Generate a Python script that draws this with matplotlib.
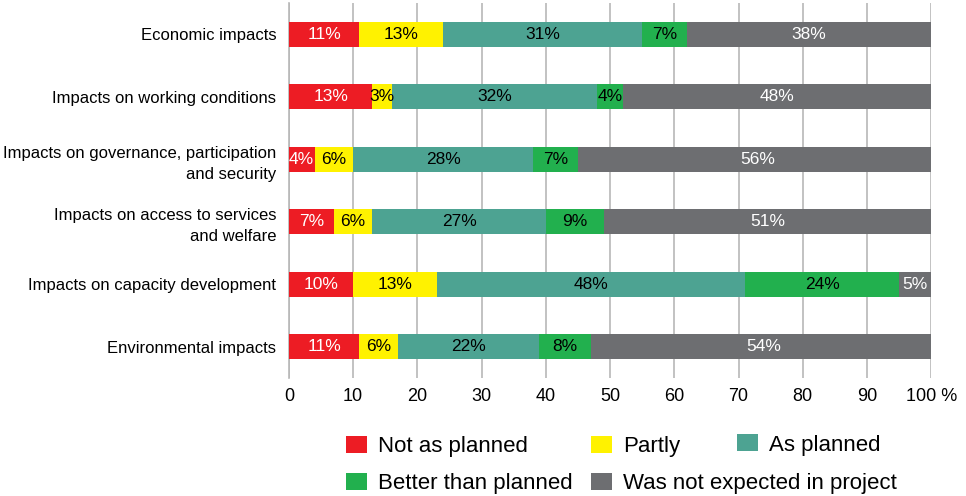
import matplotlib.pyplot as plt
import numpy as np
from matplotlib.patches import Patch

plt.rcParams['font.family'] = ['Liberation Sans', 'DejaVu Sans']

# Categories (top to bottom)
categories = ['Economic impacts',
              'Impacts on working conditions',
              'Impacts on governance, participation\nand security',
              'Impacts on access to services\nand welfare',
              'Impacts on capacity development',
              'Environmental impacts']

series = ['Not as planned', 'Partly', 'As planned',
          'Better than planned', 'Was not expected in project']

not_planned = [11, 13, 4, 7, 10, 11]
partly = [13, 3, 6, 6, 13, 6]
as_planned = [31, 32, 28, 27, 48, 22]
better = [7, 4, 7, 9, 24, 8]
not_expected = [38, 48, 56, 51, 5, 54]

colors = ['#ED1C24', '#FFF200', '#4DA392', '#22B04E', '#6D6E71']
text_colors = ['white', 'black', 'black', 'black', 'white']

values = [not_planned, partly, as_planned, better, not_expected]

fig = plt.figure(figsize=(9.66, 4.96), dpi=100)
ax = fig.add_axes([0.299, 0.238, 0.665, 0.756])

y = np.arange(len(categories))
left = np.zeros(len(categories))
for vals, col, tcol in zip(values, colors, text_colors):
    vals = np.array(vals, dtype=float)
    ax.barh(y, vals, left=left, height=0.4, color=col, zorder=3)
    for yi, (l, v) in enumerate(zip(left, vals)):
        ax.text(l + v / 2, yi, f'{int(v)}%', ha='center', va='center',
                color=tcol, fontsize=12.5, zorder=4)
    left += vals

ax.set_xlim(0, 100)
ax.set_ylim(len(categories) - 0.5, -0.5)
ax.set_yticks(y)
ax.set_yticklabels(categories, fontsize=12, linespacing=1.5)
ax.set_xticks(range(0, 101, 10))
ax.set_xticklabels([str(t) for t in range(0, 100, 10)] + ['100 %'], fontsize=13)
ax.tick_params(axis='y', length=0, pad=9)
ax.tick_params(axis='x', length=0, pad=7)
ax.grid(axis='x', color='#B8B8B8', linewidth=1.2, zorder=0)
for s in ['top', 'right', 'bottom']:
    ax.spines[s].set_visible(False)
ax.spines['left'].set_color('#B8B8B8')
ax.spines['left'].set_linewidth(1.2)

# Legend: first two columns aligned over two rows, "As planned" on row one
h = {s: Patch(facecolor=c, edgecolor='none') for s, c in zip(series, colors)}
leg_kw = dict(frameon=False, fontsize=16, handlelength=0.95, handleheight=0.8,
              handletextpad=0.5, borderpad=0, borderaxespad=0)
order = ['Not as planned', 'Better than planned', 'Partly', 'Was not expected in project']
fig.legend([h[s] for s in order], order, ncol=2, loc='center left',
           bbox_to_anchor=(346 / 966, 1 - 465 / 496),
           labelspacing=0.7, columnspacing=0.8, **leg_kw)
fig.legend([h['As planned']], ['As planned'], loc='center left',
           bbox_to_anchor=(737 / 966, 1 - 445 / 496), **leg_kw)

fig.savefig('out.png', dpi=100)
